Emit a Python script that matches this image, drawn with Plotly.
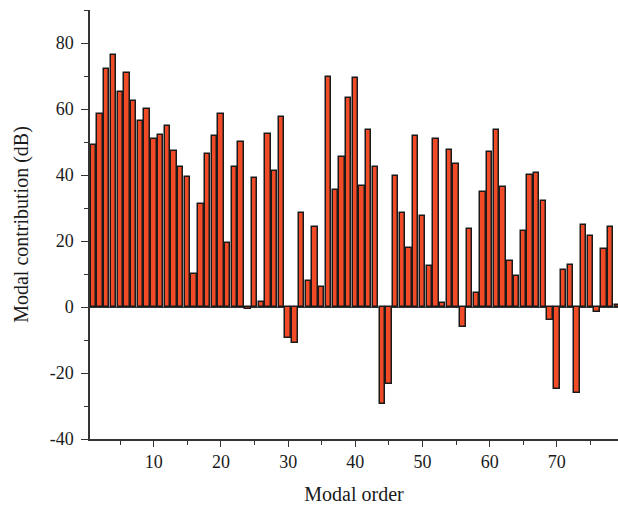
import plotly.graph_objects as go

# Modal order index and the contribution of each mode (dB)
modal_order = list(range(1, 80))
contribution_db = [
    49.1, 58.5, 72.1, 76.4, 65.3, 71.0, 62.5, 56.3, 60.1, 50.8,
    52.1, 54.8, 47.2, 42.5, 39.4, 10.0, 31.1, 46.5, 51.7, 58.5,
    19.5, 42.5, 50.0, -0.7, 39.1, 1.4, 52.3, 41.1, 57.5, -9.5,
    -10.9, 28.4, 8.0, 24.2, 6.2, 69.8, 35.4, 45.5, 63.2, 69.5,
    36.8, 53.7, 42.4, -29.5, -23.2, 39.8, 28.6, 17.8, 51.7, 27.6,
    12.5, 51.0, 1.2, 47.5, 43.3, -6.1, 23.7, 4.2, 34.8, 47.1,
    53.6, 36.3, 13.9, 9.3, 23.0, 40.1, 40.6, 32.2, -4.0, -24.9,
    11.3, 12.6, -26.0, 25.0, 21.6, -1.5, 17.6, 24.1, 0.6,
]

x_ticks = [10, 20, 30, 40, 50, 60, 70]
y_ticks = [-40, -20, 0, 20, 40, 60, 80]
y_tick_text = ["-40", "-20", "0", "20", "40", "60", "80"]

FONT = "Liberation Serif, DejaVu Serif, serif"

fig = go.Figure(
    go.Bar(
        x=modal_order,
        y=contribution_db,
        width=0.8,
        marker=dict(color="#F04A26", line=dict(color="#1a1a1a", width=1.5)),
    )
)

fig.update_layout(
    width=618,
    height=508,
    margin=dict(l=90, r=0, t=10, b=69),
    paper_bgcolor="white",
    plot_bgcolor="white",
    showlegend=False,
    font=dict(family=FONT, size=18, color="#1a1a1a"),
    bargap=0,
)

fig.update_xaxes(
    range=[0.5, 79.1],
    tickvals=x_ticks,
    ticks="outside",
    ticklen=6,
    tickwidth=1.2,
    tickcolor="#333",
    minor=dict(dtick=5, tick0=0, ticks="outside", ticklen=4, tickcolor="#333", tickwidth=1.2),
    showline=True,
    linecolor="#333",
    linewidth=1.5,
    showgrid=False,
    zeroline=False,
    title=dict(text="Modal order", font=dict(family=FONT, size=20), standoff=16),
)

fig.update_yaxes(
    range=[-40, 90],
    tickvals=y_ticks,
    ticktext=y_tick_text,
    ticks="outside",
    ticklen=7,
    tickwidth=1.2,
    tickcolor="#333",
    minor=dict(dtick=10, tick0=0, ticks="outside", ticklen=4, tickcolor="#333", tickwidth=1.2),
    ticklabelstandoff=4,
    showline=True,
    linecolor="#333",
    linewidth=1.5,
    showgrid=False,
    zeroline=True,
    zerolinecolor="#333",
    zerolinewidth=1,
    title=dict(text="Modal contribution (dB)", font=dict(family=FONT, size=20), standoff=16),
)

fig.write_html("out.html")
